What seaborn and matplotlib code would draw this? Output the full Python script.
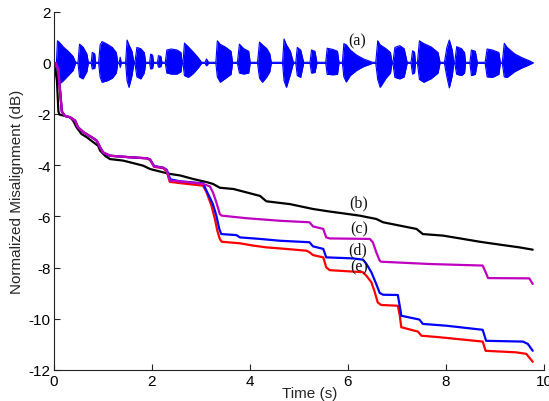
import matplotlib
matplotlib.use("Agg")
import matplotlib.pyplot as plt
import seaborn as sns
import pandas as pd

# ---------------- data ----------------
# (a) speech waveform envelope (time, upper, lower)
speech_t = [0.00, 0.06, 0.08, 0.12, 0.20, 0.30, 0.40, 0.45,
            0.50, 0.53, 0.60, 0.68, 0.71,
            0.77, 0.79, 0.84, 0.86,
            0.92, 0.95, 0.99, 1.10, 1.20, 1.28, 1.31,
            1.34, 1.36, 1.38,
            1.47, 1.50, 1.54, 1.60, 1.64,
            1.66, 1.70, 1.78, 1.85, 1.88,
            1.96, 1.98, 2.02, 2.04,
            2.12, 2.14, 2.19, 2.21,
            2.28, 2.31, 2.40, 2.52, 2.60, 2.62,
            2.64, 2.67, 2.75, 2.85, 2.95, 3.02,
            3.09, 3.12, 3.16,
            3.31, 3.34, 3.40, 3.50, 3.62, 3.65,
            3.75, 3.79, 3.88, 3.98, 4.01,
            4.16, 4.20, 4.26, 4.35, 4.41, 4.44,
            4.67, 4.70, 4.75, 4.83, 4.89,
            4.94, 4.97, 5.04, 5.10,
            5.23, 5.26, 5.33, 5.37,
            5.55, 5.58, 5.70, 5.79, 5.82,
            5.89, 5.92, 5.97, 6.05, 6.18, 6.32, 6.45, 6.50,
            6.57, 6.61, 6.66, 6.78, 6.87, 6.90,
            6.92, 6.96, 7.06, 7.15, 7.21,
            7.29, 7.32, 7.36, 7.38,
            7.42, 7.46, 7.55, 7.70, 7.84, 7.88,
            7.97, 8.02, 8.07, 8.13, 8.16,
            8.18, 8.22, 8.32, 8.38, 8.40,
            8.49, 8.52, 8.60, 8.64,
            8.80, 8.84, 8.95, 9.08, 9.11,
            9.15, 9.19, 9.25, 9.40, 9.55, 9.70, 9.78]
speech_hi = [0.00, 0.02, 0.86, 0.80, 0.62, 0.45, 0.25, 0.02,
             0.02, 0.73, 0.62, 0.35, 0.02,
             0.02, 0.41, 0.35, 0.02,
             0.02, 0.70, 0.83, 0.72, 0.60, 0.40, 0.02,
             0.02, 0.22, 0.02,
             0.02, 0.89, 0.70, 0.45, 0.02,
             0.02, 0.60, 0.55, 0.40, 0.02,
             0.02, 0.34, 0.30, 0.02,
             0.02, 0.28, 0.25, 0.02,
             0.02, 0.50, 0.54, 0.50, 0.40, 0.02,
             0.02, 0.77, 0.62, 0.42, 0.20, 0.02,
             0.02, 0.15, 0.02,
             0.02, 0.86, 0.72, 0.62, 0.45, 0.02,
             0.02, 0.73, 0.55, 0.45, 0.02,
             0.02, 0.81, 0.70, 0.55, 0.35, 0.02,
             0.02, 0.93, 0.70, 0.45, 0.02,
             0.02, 0.60, 0.50, 0.02,
             0.02, 0.50, 0.45, 0.02,
             0.02, 0.57, 0.52, 0.45, 0.02,
             0.02, 0.75, 0.70, 0.50, 0.30, 0.15, 0.06, 0.02,
             0.02, 0.86, 0.70, 0.55, 0.40, 0.02,
             0.02, 0.60, 0.67, 0.55, 0.02,
             0.02, 0.47, 0.42, 0.02,
             0.02, 0.86, 0.75, 0.62, 0.40, 0.02,
             0.02, 0.60, 0.89, 0.50, 0.02,
             0.02, 0.63, 0.55, 0.40, 0.02,
             0.02, 0.50, 0.45, 0.02,
             0.02, 0.54, 0.50, 0.40, 0.02,
             0.02, 0.76, 0.60, 0.35, 0.20, 0.08, 0.00]
speech_lo = [0.00, -0.02, -0.55, -0.83, -0.70, -0.50, -0.30, -0.02,
             -0.02, -0.55, -0.63, -0.35, -0.02,
             -0.02, -0.24, -0.22, -0.02,
             -0.02, -0.55, -0.76, -0.70, -0.60, -0.40, -0.02,
             -0.02, -0.18, -0.02,
             -0.02, -0.70, -0.96, -0.50, -0.02,
             -0.02, -0.55, -0.63, -0.40, -0.02,
             -0.02, -0.24, -0.22, -0.02,
             -0.02, -0.17, -0.15, -0.02,
             -0.02, -0.40, -0.44, -0.44, -0.35, -0.02,
             -0.02, -0.50, -0.57, -0.42, -0.20, -0.02,
             -0.02, -0.12, -0.02,
             -0.02, -0.55, -0.76, -0.62, -0.45, -0.02,
             -0.02, -0.40, -0.44, -0.40, -0.02,
             -0.02, -0.60, -0.76, -0.55, -0.35, -0.02,
             -0.02, -0.70, -0.96, -0.45, -0.02,
             -0.02, -0.50, -0.57, -0.02,
             -0.02, -0.40, -0.38, -0.02,
             -0.02, -0.45, -0.47, -0.45, -0.02,
             -0.02, -0.55, -0.75, -0.50, -0.30, -0.15, -0.06, -0.02,
             -0.02, -0.65, -0.96, -0.60, -0.40, -0.02,
             -0.02, -0.57, -0.63, -0.55, -0.02,
             -0.02, -0.44, -0.40, -0.02,
             -0.02, -0.65, -0.76, -0.62, -0.40, -0.02,
             -0.02, -0.55, -0.98, -0.50, -0.02,
             -0.02, -0.45, -0.50, -0.40, -0.02,
             -0.02, -0.50, -0.45, -0.02,
             -0.02, -0.55, -0.57, -0.45, -0.02,
             -0.02, -0.55, -0.57, -0.35, -0.20, -0.08, 0.00]

# (b) black curve
b_t = [0.00, 0.04, 0.07, 0.10, 0.12, 0.20, 0.34, 0.40, 0.47, 0.57, 0.68, 0.81,
       0.91, 0.95, 1.05, 1.15, 1.42, 1.69, 1.83, 1.97, 2.24, 2.37, 2.58, 2.85,
       3.12, 3.25, 3.39, 3.67, 3.93, 4.21, 4.34, 4.82, 5.29, 5.63, 5.90, 6.24,
       6.58, 6.72, 7.40, 7.53, 7.94, 8.35, 8.69, 9.16, 9.50, 9.77]
b_y = [0.00, -0.30, -0.70, -1.90, -2.02, -2.06, -2.13, -2.26, -2.52, -2.78, -2.91, -3.10,
       -3.24, -3.43, -3.63, -3.76, -3.82, -3.95, -4.02, -4.15, -4.28, -4.34, -4.40, -4.54,
       -4.66, -4.73, -4.88, -4.93, -5.06, -5.20, -5.41, -5.52, -5.71, -5.81, -5.88, -5.97,
       -6.10, -6.23, -6.49, -6.69, -6.75, -6.88, -6.99, -7.12, -7.21, -7.30]

# (c) magenta curve
c_t = [0.00, 0.05, 0.10, 0.13, 0.17, 0.23, 0.34, 0.44, 0.50, 0.61, 0.78, 0.88,
       0.95, 1.01, 1.15, 1.56, 1.90, 1.97, 2.05, 2.24, 2.31, 2.37, 2.78, 3.05,
       3.19, 3.25, 3.32, 3.39, 3.43, 3.93, 4.61, 5.22, 5.29, 5.50, 5.56, 5.63,
       6.45, 6.51, 6.58, 6.65, 6.68, 7.67, 8.75, 8.81, 8.86, 9.70, 9.77]
c_y = [0.00, -0.02, -0.30, -1.00, -1.90, -2.07, -2.13, -2.26, -2.52, -2.71, -2.91, -3.04,
       -3.30, -3.50, -3.63, -3.69, -3.73, -3.78, -4.05, -4.10, -4.21, -4.60, -4.67, -4.73,
       -4.83, -5.06, -5.45, -5.91, -5.97, -6.07, -6.17, -6.23, -6.39, -6.49, -6.82, -6.86,
       -6.88, -7.01, -7.40, -7.73, -7.77, -7.86, -7.92, -8.18, -8.41, -8.42, -8.64]

# (d) blue curve
d_t = [0.00, 0.05, 0.10, 0.13, 0.17, 0.23, 0.34, 0.44, 0.50, 0.61, 0.78, 0.88,
       0.95, 1.01, 1.15, 1.56, 1.90, 1.97, 2.05, 2.24, 2.31, 2.38, 2.58, 3.05,
       3.12, 3.25, 3.32, 3.38, 3.42, 3.73, 3.80, 4.21, 4.61, 5.22, 5.29, 5.50,
       5.56, 6.10, 6.31, 6.38, 6.48, 6.58, 6.65, 6.72, 7.02, 7.07, 7.09, 7.46,
       7.53, 8.01, 8.75, 8.82, 9.57, 9.67, 9.77]
d_y = [0.00, -0.02, -0.30, -1.00, -1.90, -2.07, -2.13, -2.26, -2.52, -2.71, -2.91, -3.04,
       -3.30, -3.50, -3.63, -3.69, -3.73, -3.78, -4.03, -4.10, -4.18, -4.55, -4.63, -4.71,
       -5.00, -5.52, -5.97, -6.49, -6.69, -6.73, -6.82, -6.88, -6.95, -7.01, -7.17, -7.27,
       -7.60, -7.64, -7.69, -7.86, -8.18, -8.64, -8.99, -9.06, -9.07, -9.62, -9.88, -10.03,
       -10.20, -10.27, -10.43, -10.86, -10.89, -10.98, -11.25]

# (e) red curve
e_t = [0.00, 0.05, 0.10, 0.13, 0.17, 0.23, 0.34, 0.44, 0.50, 0.61, 0.78, 0.88,
       0.95, 1.01, 1.15, 1.56, 1.90, 1.97, 2.05, 2.24, 2.31, 2.37, 2.58, 3.05,
       3.12, 3.22, 3.29, 3.34, 3.39, 3.43, 3.80, 4.07, 4.34, 4.61, 5.16, 5.22,
       5.29, 5.50, 5.56, 5.63, 6.31, 6.38, 6.48, 6.55, 6.61, 6.68, 7.02, 7.06,
       7.09, 7.43, 7.50, 7.87, 8.75, 8.81, 9.43, 9.64, 9.77]
e_y = [0.00, -0.02, -0.30, -1.00, -1.90, -2.07, -2.13, -2.26, -2.52, -2.71, -2.91, -3.04,
       -3.30, -3.50, -3.63, -3.69, -3.73, -3.79, -4.06, -4.12, -4.25, -4.65, -4.70, -4.80,
       -5.06, -5.58, -6.10, -6.56, -6.88, -6.99, -7.05, -7.14, -7.21, -7.25, -7.34, -7.40,
       -7.51, -7.60, -7.99, -8.10, -8.18, -8.32, -8.57, -8.96, -9.36, -9.46, -9.49, -9.88,
       -10.33, -10.50, -10.66, -10.72, -10.89, -11.25, -11.31, -11.37, -11.68]

labels = ["(a)", "(b)", "(c)", "(d)", "(e)"]
label_x = [6.20, 6.23, 6.23, 6.21, 6.23]
label_y = [0.87, -5.45, -6.47, -7.27, -7.95]

x_ticks = [0, 2, 4, 6, 8, 10]
y_ticks = [-12, -10, -8, -6, -4, -2, 0, 2]

# ---------------- plot ----------------
sns.set_theme(style="ticks")
plt.rcParams["font.family"] = ["Liberation Sans", "DejaVu Sans"]

fig = plt.figure(figsize=(5.49, 4.02), dpi=100)
ax = fig.add_axes([53.5 / 549, 31 / 402, 490.5 / 549, 358.4 / 402])

# speech signal
ax.fill_between(speech_t, speech_lo, speech_hi, color="#0000ff", lw=0)
sns.lineplot(x=speech_t, y=speech_hi, ax=ax, color="#0000ff", lw=0.8,
             sort=False, estimator=None)
sns.lineplot(x=speech_t, y=speech_lo, ax=ax, color="#0000ff", lw=0.8,
             sort=False, estimator=None)

curves = [
    (b_t, b_y, "#000000"),
    (e_t, e_y, "#ff0000"),
    (d_t, d_y, "#0000ff"),
    (c_t, c_y, "#bf00bf"),
]
for t, y, col in curves:
    df = pd.DataFrame({"t": t, "y": y})
    sns.lineplot(data=df, x="t", y="y", ax=ax, color=col, lw=1.6,
                 sort=False, estimator=None)

for lab, lx, ly in zip(labels, label_x, label_y):
    ax.text(lx, ly, lab, ha="center", va="center", fontsize=11.5,
            family=["Liberation Serif", "DejaVu Serif"], color="#111111")

ax.set_xlim(0, 10)
ax.set_ylim(-12, 2)
ax.set_xticks(x_ticks)
ax.set_yticks(y_ticks)
ax.set_xticklabels([str(v) for v in x_ticks])
ax.set_yticklabels([str(v) for v in y_ticks])
ax.tick_params(direction="in", length=4, width=0.8, colors="#222222",
               labelsize=11, labelcolor="#000000")
ax.tick_params(axis="x", pad=3)
ax.tick_params(axis="y", pad=2)
for s in ["top", "right"]:
    ax.spines[s].set_visible(False)
for s in ["left", "bottom"]:
    ax.spines[s].set_color("#222222")
    ax.spines[s].set_linewidth(0.8)

ax.set_xlabel("Time (s)", fontsize=11)
ax.set_ylabel("Normalized Misalignment (dB)", fontsize=11)
ax.xaxis.set_label_coords(0.523, -0.044)
ax.yaxis.set_label_coords(-0.06, 0.5)

fig.savefig("out.png", dpi=100)
